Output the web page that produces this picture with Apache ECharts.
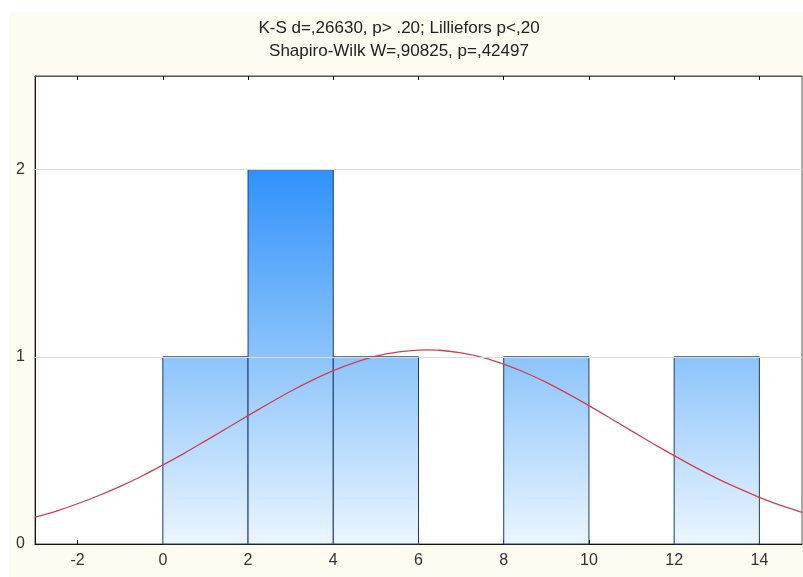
<!DOCTYPE html>
<html>
<head>
<meta charset="utf-8">
<script src="https://cdn.jsdelivr.net/npm/echarts@6/dist/echarts.min.js"></script>
<style>
html,body{margin:0;padding:0;background:#ffffff;}
#chart{width:803px;height:577px;}
</style>
</head>
<body>
<div id="chart"></div>
<script>
// ---- data ----
var titleLines = ['K-S d=,26630, p> .20; Lilliefors p<,20', 'Shapiro-Wilk W=,90825, p=,42497'];
var binStarts = [0, 2, 4, 6, 8, 10, 12];
var binEnds   = [2, 4, 6, 8, 10, 12, 14];
var counts    = [1, 2, 1, 0, 1, 0, 1];
var curveX = [-3, -2.5, -2, -1.5, -1, -0.5, 0, 0.5, 1, 1.5, 2, 2.5, 3, 3.5, 4, 4.5, 5, 5.5, 6, 6.2, 6.5, 7, 7.5, 8, 8.5, 9, 9.5, 10, 10.5, 11, 11.5, 12, 12.5, 13, 13.5, 14, 14.5, 15];
var curveY = [0.143, 0.176, 0.215, 0.259, 0.308, 0.362, 0.422, 0.484, 0.551, 0.618, 0.686, 0.752, 0.816, 0.874, 0.926, 0.969, 1.003, 1.025, 1.036, 1.037, 1.035, 1.021, 0.997, 0.961, 0.916, 0.863, 0.803, 0.739, 0.672, 0.604, 0.537, 0.472, 0.409, 0.351, 0.298, 0.249, 0.206, 0.169];
var xTicks = [-2, 0, 2, 4, 6, 8, 10, 12, 14];
var yTicks = [0, 1, 2];
var gridLevels = [1, 2];

var chart = echarts.init(document.getElementById('chart'), null, {renderer: 'canvas'});

var barData = binStarts.map(function (s, i) { return [s, binEnds[i], counts[i]]; });
var curveData = curveX.map(function (x, i) { return [x, curveY[i]]; });

var gradient = new echarts.graphic.LinearGradient(0, 170, 0, 544, [
  {offset: 0, color: '#3191fa'},
  {offset: 0.5, color: '#8cc4fa'},
  {offset: 1, color: '#ebf5ff'}
], true);

var font = 'Liberation Sans, Arial, sans-serif';

chart.setOption({
  backgroundColor: '#ffffff',
  animation: false,
  graphic: [{
    type: 'rect', z: -10, left: 9, top: 12,
    shape: {width: 794, height: 565},
    style: {fill: '#fefbf0'}
  }],
  title: {
    text: titleLines.join('\n'),
    left: 394, top: 12, textAlign: 'center',
    textStyle: {fontFamily: font, fontSize: 17, fontWeight: 'normal', color: '#222', lineHeight: 23}
  },
  grid: {
    left: 35, top: 76, right: 1, bottom: 33,
    show: true, backgroundColor: '#ffffff', borderColor: '#555', borderWidth: 1
  },
  xAxis: [{
    type: 'value', min: -3, max: 15, position: 'bottom',
    axisLine: {show: true, onZero: false, lineStyle: {color: '#111', width: 1}},
    axisTick: {show: true, inside: true, length: 4, customValues: xTicks, lineStyle: {color: '#111'}},
    axisLabel: {customValues: xTicks, fontFamily: font, fontSize: 16, color: '#333', margin: 9},
    splitLine: {show: false}
  }, {
    type: 'value', min: -3, max: 15, position: 'top',
    axisLine: {show: true, onZero: false, lineStyle: {color: '#555', width: 1}},
    axisTick: {show: true, inside: true, length: 4, customValues: xTicks, lineStyle: {color: '#111'}},
    axisLabel: {show: false},
    splitLine: {show: false}
  }],
  yAxis: [{
    type: 'value', min: 0, max: 2.5, position: 'left',
    axisLine: {show: true, onZero: false, lineStyle: {color: '#111', width: 1}},
    axisTick: {show: true, inside: true, length: 4, customValues: yTicks, lineStyle: {color: '#111'}},
    axisLabel: {customValues: yTicks, fontFamily: font, fontSize: 16, color: '#333', margin: 10},
    splitLine: {show: false}
  }],
  series: [{
    type: 'line',
    data: [],
    symbol: 'none', silent: true,
    markLine: {
      silent: true, symbol: 'none', label: {show: false},
      lineStyle: {color: '#dcdcdc', width: 1, type: 'solid'},
      data: gridLevels.map(function(v){return {yAxis: v};})
    },
    z: 1
  }, {
    type: 'custom',
    data: barData,
    encode: {x: [0, 1], y: 2},
    z: 2,
    renderItem: function (params, api) {
      var h = api.value(2);
      if (!h) return null;
      var p0 = api.coord([api.value(0), h]);
      var p1 = api.coord([api.value(1), 0]);
      return {
        type: 'rect',
        shape: {x: p0[0], y: p0[1], width: p1[0] - p0[0], height: p1[1] - p0[1]},
        style: {fill: gradient, stroke: '#1f3c6e', lineWidth: 1}
      };
    }
  }, {
    type: 'line',
    data: curveData,
    smooth: 0.3,
    symbol: 'none',
    z: 3,
    lineStyle: {color: '#d04050', width: 1.3}
  }]
});
</script>
</body>
</html>
